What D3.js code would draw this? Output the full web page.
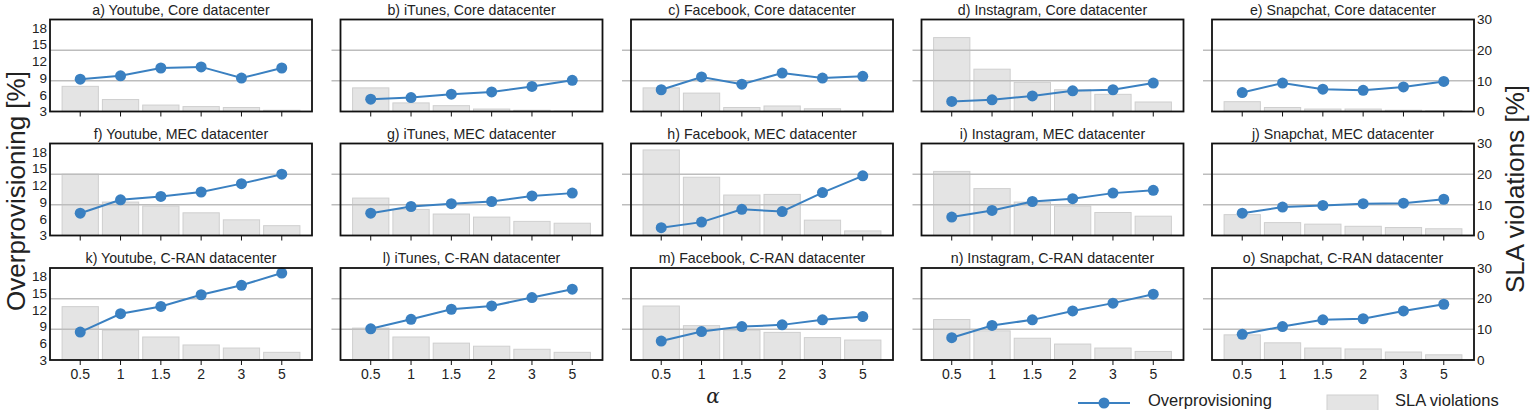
<!DOCTYPE html>
<html><head><meta charset="utf-8">
<script src="https://cdn.jsdelivr.net/npm/d3@7"></script>
<style>body{margin:0;background:#fff}svg{display:block}</style>
</head><body>
<svg id="c" width="1530" height="410"></svg>
<script>
const categories = ["0.5","1","1.5","2","3","5"];
const apps = ["Youtube","iTunes","Facebook","Instagram","Snapchat"];
const datacenters = ["Core","MEC","C-RAN"];
const letters = ["a","b","c","d","e","f","g","h","i","j","k","l","m","n","o"];
const leftTicks = [3,6,9,12,15,18];
const rightTicks = [0,10,20,30];

// Overprovisioning [%] per app (rows) for each datacenter
const overCore = [
  [8.8, 9.4, 10.8, 11.0, 9.0, 10.8],
  [5.2, 5.5, 6.1, 6.5, 7.5, 8.6],
  [6.9, 9.2, 7.9, 9.9, 9.0, 9.3],
  [4.8, 5.1, 5.8, 6.7, 6.9, 8.1],
  [6.4, 8.1, 7.0, 6.8, 7.4, 8.4]
];
const overMEC = [
  [7.0, 9.4, 10.0, 10.8, 12.3, 14.0],
  [7.0, 8.2, 8.7, 9.1, 10.1, 10.6],
  [4.4, 5.4, 7.7, 7.3, 10.7, 13.7],
  [6.3, 7.5, 9.1, 9.6, 10.6, 11.1],
  [7.0, 8.1, 8.4, 8.7, 8.8, 9.5]
];
const overCRAN = [
  [8.0, 11.3, 12.6, 14.7, 16.4, 18.6],
  [8.6, 10.3, 12.1, 12.7, 14.2, 15.7],
  [6.4, 8.1, 9.0, 9.3, 10.2, 10.8],
  [7.0, 9.2, 10.2, 11.8, 13.2, 14.8],
  [7.6, 9.0, 10.2, 10.4, 11.8, 13.0]
];
// SLA violations [%]
const slaCore = [
  [8.2, 3.9, 2.1, 1.6, 1.3, 0.4],
  [7.7, 2.8, 1.9, 0.8, 0.4, 0.1],
  [7.7, 6.0, 1.3, 1.8, 0.9, 0.1],
  [24.1, 13.8, 9.5, 7.1, 5.6, 3.1],
  [3.2, 1.3, 0.8, 0.8, 0.4, 0.2]
];
const slaMEC = [
  [20.0, 10.9, 9.6, 7.4, 5.1, 3.2],
  [12.2, 8.5, 7.0, 6.0, 4.6, 4.0],
  [27.9, 19.0, 13.2, 13.4, 5.0, 1.5],
  [20.9, 15.3, 10.9, 9.6, 7.5, 6.3],
  [6.8, 4.2, 3.7, 3.0, 2.6, 2.2]
];
const slaCRAN = [
  [17.4, 9.7, 7.5, 4.9, 3.9, 2.5],
  [10.4, 7.5, 5.5, 4.5, 3.5, 2.5],
  [17.6, 11.2, 9.7, 9.0, 7.3, 6.5],
  [13.2, 9.5, 7.1, 5.2, 3.9, 2.8],
  [8.2, 5.6, 3.9, 3.6, 2.6, 1.7]
];
const overAll = [overCore, overMEC, overCRAN];
const slaAll = [slaCore, slaMEC, slaCRAN];

const FONT = "'Liberation Sans', Arial, Helvetica, sans-serif";
const BLUE = "#3a80c1";
const svg = d3.select("#c");
const colX = [50, 340.5, 631, 921.5, 1212];
const rowY = [19.5, 143.5, 268];
const W = 262, H = 92;

datacenters.forEach((dc, r) => {
  apps.forEach((app, c) => {
    const x0 = colX[c], y0 = rowY[r];
    const g = svg.append("g").attr("transform", `translate(${x0},${y0})`);
    const x = d3.scaleBand().domain(categories).range([0, W]).paddingInner(0.1).paddingOuter(0.3);
    const yL = d3.scaleLinear().domain([3, 19.5]).range([H, 0]);
    const yR = d3.scaleLinear().domain([0, 30]).range([H, 0]);
    const over = overAll[r][c], sla = slaAll[r][c];

    // bars
    g.selectAll("rect.bar").data(sla).join("rect")
      .attr("x", (d,i) => x(categories[i]))
      .attr("width", x.bandwidth())
      .attr("y", d => yR(d))
      .attr("height", d => H - yR(d))
      .attr("fill", "#e4e4e4").attr("stroke", "#cfcfcf").attr("stroke-width", 1);

    // gridlines (right axis)
    const gx0 = c === 0 ? 0 : -9;
    g.selectAll("line.grid").data([10, 20]).join("line")
      .attr("x1", gx0).attr("x2", W)
      .attr("y1", d => yR(d)).attr("y2", d => yR(d))
      .attr("stroke", "#bdbdbd").attr("stroke-width", 1.5);

    // line
    const line = d3.line().x((d,i) => x(categories[i]) + x.bandwidth()/2).y(d => yL(d));
    g.append("path").datum(over).attr("d", line)
      .attr("fill", "none").attr("stroke", BLUE).attr("stroke-width", 2);
    g.selectAll("circle").data(over).join("circle")
      .attr("cx", (d,i) => x(categories[i]) + x.bandwidth()/2)
      .attr("cy", d => yL(d)).attr("r", 5.5).attr("fill", BLUE);

    // frame
    g.append("rect").attr("x", 0).attr("y", 0).attr("width", W).attr("height", H)
      .attr("fill", "none").attr("stroke", "#111").attr("stroke-width", 1.8);

    // bottom axis
    const ax = d3.axisBottom(x).tickSize(5).tickPadding(4);
    if (r < 2) ax.tickFormat("");
    const axg = g.append("g").attr("transform", `translate(0,${H})`).call(ax);
    axg.select(".domain").remove();
    axg.selectAll("line").attr("stroke", "#111");
    axg.selectAll("text").attr("font-family", FONT).attr("font-size", 14).attr("fill", "#222");

    // left axis
    if (c === 0) {
      const al = g.append("g").call(d3.axisLeft(yL).tickValues(leftTicks).tickSize(0).tickPadding(3));
      al.select(".domain").remove();
      al.selectAll("text").attr("font-family", FONT).attr("font-size", 13.5).attr("fill", "#222");
    }
    if (c === 4) {
      const ar = g.append("g").attr("transform", `translate(${W},0)`)
        .call(d3.axisRight(yR).tickValues(rightTicks).tickSize(0).tickPadding(3));
      ar.select(".domain").remove();
      ar.selectAll("text").attr("font-family", FONT).attr("font-size", 13.5).attr("fill", "#222");
    }

    // title
    g.append("text").attr("x", W/2).attr("y", -5).attr("text-anchor", "middle")
      .attr("font-family", FONT).attr("font-size", 14.2).attr("fill", "#222")
      .text(`${letters[r*5+c]}) ${app}, ${dc} datacenter`);
  });
});

// axis labels
svg.append("text").attr("transform", "translate(24.5,191) rotate(-90)")
  .attr("text-anchor", "middle").attr("font-family", FONT).attr("font-size", 26).attr("fill", "#222")
  .text("Overprovisioning [%]");
svg.append("text").attr("transform", "translate(1523.5,189) rotate(-90)")
  .attr("text-anchor", "middle").attr("font-family", FONT).attr("font-size", 26).attr("fill", "#222")
  .text("SLA violations [%]");
svg.append("text").attr("x", 713).attr("y", 403).attr("text-anchor", "middle")
  .attr("font-family", "'DejaVu Serif', serif").attr("font-style", "italic").attr("font-size", 20).attr("fill", "#222")
  .text("α");

// legend
const lg = svg.append("g");
lg.append("line").attr("x1", 1078).attr("x2", 1130).attr("y1", 403).attr("y2", 403)
  .attr("stroke", BLUE).attr("stroke-width", 2);
lg.append("circle").attr("cx", 1104).attr("cy", 403).attr("r", 5.5).attr("fill", BLUE);
lg.append("text").attr("x", 1148).attr("y", 405.5).attr("font-family", FONT).attr("font-size", 16.5).attr("fill", "#222")
  .text("Overprovisioning");
lg.append("rect").attr("x", 1327).attr("y", 395).attr("width", 51).attr("height", 20)
  .attr("fill", "#e4e4e4").attr("stroke", "#cfcfcf");
lg.append("text").attr("x", 1395).attr("y", 405.5).attr("font-family", FONT).attr("font-size", 16.5).attr("fill", "#222")
  .text("SLA violations");
</script>
</body></html>
